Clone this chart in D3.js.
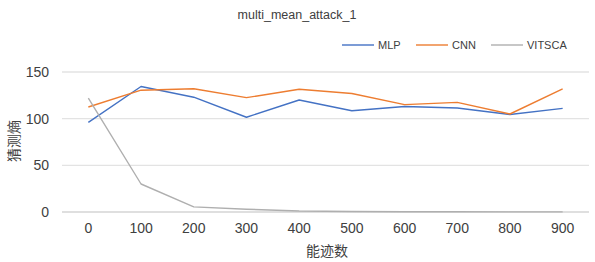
<!DOCTYPE html>
<html>
<head>
<meta charset="utf-8">
<script src="https://cdn.jsdelivr.net/npm/d3@7"></script>
<style>
  body { margin: 0; background: #fff; }
  text { font-family: "Noto Sans CJK SC", "Noto Sans", sans-serif; fill: #404040; }
</style>
</head>
<body>
<div id="chart"></div>
<script>
// ---------- DATA ----------
const traces = ["0", "100", "200", "300", "400", "500", "600", "700", "800", "900"];
const mlp = [96, 134.5, 123, 101.5, 120, 108.5, 113, 111.5, 104.5, 111];
const cnn = [112.5, 130.5, 132, 122.5, 131.5, 127, 115, 117.5, 105, 132];
const vitsca = [122, 30, 5.5, 3, 1, 0.5, 0.3, 0.2, 0.1, 0.1];
const yTicks = [0, 50, 100, 150];

const seriesNames = ["MLP", "CNN", "VITSCA"];
const seriesColors = ["#4472C4", "#ED7D31", "#AFAFAF"];
const series = [mlp, cnn, vitsca];

// ---------- CHART ----------
const width = 595;
const height = 262;
const margin = { top: 72, right: 6, bottom: 50, left: 62 };

const svg = d3
	.select("#chart")
	.append("svg")
	.attr("width", width)
	.attr("height", height);

const xScale = d3
	.scaleBand()
	.domain(traces)
	.range([margin.left, width - margin.right]);

const yScale = d3
	.scaleLinear()
	.domain([0, 150])
	.range([height - margin.bottom, margin.top]);

// gridlines
svg.append("g")
	.selectAll("line")
	.data(yTicks)
	.enter()
	.append("line")
	.attr("x1", margin.left)
	.attr("x2", width - margin.right)
	.attr("y1", (d) => yScale(d))
	.attr("y2", (d) => yScale(d))
	.attr("stroke", (d) => (d === 0 ? "#d4d4d4" : "#e3e3e3"))
	.attr("stroke-width", 1.3);

// y axis labels
const yAxis = svg
	.append("g")
	.attr("transform", `translate(${margin.left}, 0)`)
	.call(d3.axisLeft(yScale).tickValues(yTicks).tickSize(0).tickPadding(13));
yAxis.select(".domain").remove();
yAxis.selectAll("text")
	.style("font-family", "'Liberation Sans', Arial, sans-serif")
	.style("font-size", "14px")
	.attr("fill", "#404040");

// x axis labels
const xAxis = svg
	.append("g")
	.attr("transform", `translate(0, ${height - margin.bottom})`)
	.call(d3.axisBottom(xScale).tickSize(0).tickPadding(11));
xAxis.select(".domain").remove();
xAxis.selectAll("text")
	.style("font-family", "'Liberation Sans', Arial, sans-serif")
	.style("font-size", "14px")
	.attr("fill", "#404040");

// lines
const line = d3
	.line()
	.x((d, i) => xScale(traces[i]) + xScale.bandwidth() / 2)
	.y((d) => yScale(d));

series.forEach((values, i) => {
	svg.append("path")
		.datum(values)
		.attr("fill", "none")
		.attr("stroke", seriesColors[i])
		.attr("stroke-width", 1.4)
		.attr("stroke-linejoin", "round")
		.attr("d", line);
});

// title
svg.append("text")
	.attr("x", 297)
	.attr("y", 19)
	.attr("text-anchor", "middle")
	.style("font-family", "'Liberation Sans', Arial, sans-serif")
	.style("font-size", "12.5px")
	.attr("fill", "#505050")
	.text("multi_mean_attack_1");

// legend
const legendX = [342, 416, 491];
seriesNames.forEach((name, i) => {
	const g = svg.append("g").attr("transform", `translate(${legendX[i]}, 45)`);
	g.append("line")
		.attr("x1", 0)
		.attr("x2", 32)
		.attr("stroke", seriesColors[i])
		.attr("stroke-width", 1.4);
	g.append("text")
		.attr("x", 36)
		.attr("y", 4)
		.style("font-family", "'Liberation Sans Narrow', 'Liberation Sans', Arial, sans-serif")
		.style("font-size", "11px")
		.attr("fill", "#505050")
		.text(name);
});

// axis titles
svg.append("text")
	.attr("transform", `translate(19, 141) rotate(-90)`)
	.attr("text-anchor", "middle")
	.style("font-size", "14px")
	.text("猜测熵");

svg.append("text")
	.attr("x", 327)
	.attr("y", 256)
	.attr("text-anchor", "middle")
	.style("font-size", "14px")
	.text("能迹数");
</script>
</body>
</html>
